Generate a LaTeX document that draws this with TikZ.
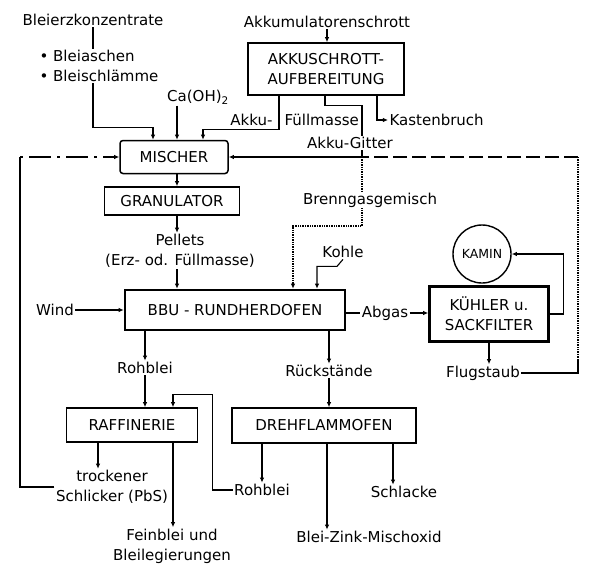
\documentclass[tikz,border=0pt]{standalone}
\usepackage{fontspec}
\setmainfont{DejaVu Sans}
\usetikzlibrary{positioning,arrows.meta,calc}

\begin{document}
\begin{tikzpicture}[
      x=1pt, y=-1pt,
      line width=1.1pt,
      every node/.style={font=\fontsize{15}{20}\selectfont},
      lbl/.style={inner sep=1pt, align=center},
      proc/.style={draw, line width=1.5pt, inner sep=2pt, align=center},
      heavy/.style={proc, line width=2.6pt},
      arr/.style={-{Latex[length=1.8mm,width=1.6mm]}},
    ]
    \useasboundingbox (0,0) rectangle (593,568);
    % Einsatzstoffe
    \node[lbl] (erz) at (93,20) {Bleierzkonzentrate};
    \node[lbl, align=left] (zusatz) at (99,66) {• Bleiaschen\\• Bleischlämme};
    \node[lbl] (akku) at (327,22) {Akkumulatorenschrott};
    \node[proc, minimum width=156pt, minimum height=52pt] (aufb) at (326,69) {AKKUSCHROTT-\\AUFBEREITUNG};
    \node[lbl] (cao) at (198,97) {Ca(OH)\textsubscript{2}};
    \node[lbl, anchor=east] (fuellA) at (274,120) {Akku-};
    \node[lbl, anchor=west] (fuellB) at (283,120) {Füllmasse};
    \node[lbl] (gitter) at (350,143) {Akku-Gitter};
    \node[lbl, anchor=west] (kasten) at (388,120) {Kastenbruch};
    % Aufbereitung und Ofen
    \node[proc, rounded corners=3pt, minimum width=108pt, minimum height=33pt] (mischer) at (174,157) {MISCHER};
    \node[proc, minimum width=135pt, minimum height=28pt] (gran) at (172,201) {GRANULATOR};
    \node[lbl] (pel) at (180,251) {Pellets\\(Erz- od. Füllmasse)};
    \node[lbl] (kohle) at (343,252) {Kohle};
    \node[lbl] (wind) at (55,310) {Wind};
    \node[heavy, minimum width=220pt, minimum height=40pt] (ofen) at (235,310) {BBU - RUNDHERDOFEN};
    \node[lbl] (abgas) at (385,313) {Abgas};
    \node[heavy, minimum width=119pt, minimum height=55pt] (kuehler) at (489,314) {KÜHLER u.\\SACKFILTER};
    \node[draw, circle, line width=1.4pt, minimum size=58pt, inner sep=0pt,
          font=\fontsize{12.5}{15}\selectfont] (kamin) at (482,254) {KAMIN};
    \node[lbl] (flug) at (483,373) {Flugstaub};
    % Weiterverarbeitung
    \node[lbl] (roh1) at (145,368) {Rohblei};
    \node[lbl] (rueck) at (329,371) {Rückstände};
    \node[proc, minimum width=131pt, minimum height=34pt] (raff) at (132,425) {RAFFINERIE};
    \node[proc, minimum width=184pt, minimum height=35pt] (dreh) at (324,425.5) {DREHFLAMMOFEN};
    \node[lbl] (schlick) at (112,487) {trockener\\Schlicker (PbS)};
    \node[lbl] (roh2) at (262,490) {Rohblei};
    \node[lbl] (schlacke) at (404,492) {Schlacke};
    \node[lbl] (fein) at (172,546) {Feinblei und\\Bleilegierungen};
    \node[lbl] (misch) at (369,537) {Blei-Zink-Mischoxid};

    \coordinate (axis) at (177,0);
    \coordinate (jct) at ([xshift=12pt]gitter.south |- mischer.east);
    \coordinate (ret) at (578,157);
    \coordinate (fc) at (578,360);
    \coordinate (lc) at (20,157);

    % Zufuhr zum Mischer
    \draw (erz.south) -- (erz.south |- zusatz.north);
    \draw[arr] (erz.south |- zusatz.south) |- ([xshift=-21pt,yshift=12pt]mischer.north) -- ([xshift=-21pt]mischer.north);
    \draw[arr] (axis |- cao.south) -- (axis |- mischer.north);
    \draw[arr] (akku.south) -- (akku.south |- aufb.north);
    \draw[arr] ([xshift=-47pt]aufb.south) |- ([xshift=29pt,yshift=10pt]mischer.north) -- ([xshift=29pt]mischer.north);
    \draw ([xshift=-1pt]aufb.south) -- ++(0,10) -| ([xshift=12pt]gitter.north);
    \draw[arr] ([xshift=12pt]gitter.south) |- (mischer.east);
    \draw[arr] ([xshift=51pt]aufb.south) |- (kasten.west);
    % Mischer -> Ofen
    \draw[arr] (axis |- mischer.south) -- (axis |- gran.north);
    \draw[arr] (axis |- gran.south) -- (axis |- pel.north);
    \draw[arr] (axis |- pel.south) -- (axis |- ofen.north);
    \draw[arr, densely dotted, line width=1.4pt] (jct) -- ++(0,69) -| ([xshift=58pt]ofen.north);
    \node[lbl, fill=white] (brenn) at (370,200) {Brenngasgemisch};
    \draw[arr] (kohle.south) -- ++(-6,7) -| ([xshift=82pt]ofen.north);
    \draw[arr] (wind.east) -- (wind.east -| ofen.west);
    % Abgasweg
    \draw (ofen.east |- abgas.west) -- (abgas.west);
    \draw[arr] (abgas.east) -- (abgas.east -| kuehler.west);
    \draw[arr] (kuehler.east) -- ++(14,0) |- (kamin.east);
    \draw[arr] (kuehler.south) -- (kuehler.south |- flug.north);
    \draw (flug.east) -| (fc);
    \draw[densely dotted, line width=1.4pt] (fc) -- (ret);
    \draw[dash pattern=on 14pt off 5pt] (ret) -- (jct);
    % Ofen -> Raffinerie / Drehflammofen
    \draw[arr] (roh1.north |- ofen.south) -- (roh1.north);
    \draw[arr] (rueck.north |- ofen.south) -- (rueck.north);
    \draw[arr] (roh1.south) -- (roh1.south |- raff.north);
    \draw[arr] (rueck.south) -- (rueck.south |- dreh.north);
    \draw[arr] (roh2.north |- dreh.south) -- (roh2.north);
    \draw[arr] (roh2.west) -- ++(-20,0) |- ([xshift=41pt,yshift=13pt]raff.north) -- ([xshift=41pt]raff.north);
    \draw[arr] ([xshift=3pt]dreh.south) -- ([xshift=3pt]dreh.south |- misch.north);
    \draw[arr] ([xshift=69pt]dreh.south) -- ([xshift=69pt]dreh.south |- schlacke.north);
    \draw[arr] ([xshift=-34pt]raff.south) -- ([xshift=-34pt]raff.south |- schlick.north);
    \draw[arr] ([xshift=41pt]raff.south) -- ([xshift=41pt]raff.south |- fein.north);
    % Schlicker zurueck zum Mischer
    \draw (schlick.west) -| (lc);
    \draw[arr, dash pattern=on 3pt off 6pt on 22pt off 6pt] (lc) -- (mischer.west);
  \end{tikzpicture}
\end{document}
